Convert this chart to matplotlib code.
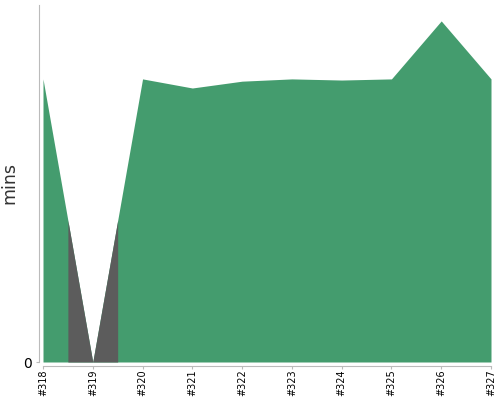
import numpy as np
import matplotlib
matplotlib.use('Agg')
import matplotlib.pyplot as plt

# build trend, duration in minutes
builds = [318, 319, 320, 321, 322, 323, 324, 325, 326, 327]
labels = ['#318', '#319', '#320', '#321', '#322', '#323', '#324', '#325', '#326', '#327']
mins = [4.98, 0.0, 4.98, 4.82, 4.94, 4.98, 4.96, 4.98, 6.0, 4.98]
status = ['ok', 'aborted', 'ok', 'ok', 'ok', 'ok', 'ok', 'ok', 'ok', 'ok']
status_colors = {'ok': '#449c6e', 'aborted': '#5c5c5c'}

fig = plt.figure(figsize=(5, 4), dpi=100)
ax = fig.add_axes([0.086, 0.095, 0.896, 0.8925])

x = np.array(builds, dtype=float)
y = np.array(mins)
# whole area in the success colour, other builds painted over their half-step band
ax.fill_between(x, y, 0, color=status_colors['ok'], lw=0)
for i, b in enumerate(builds):
    if status[i] == 'ok':
        continue
    lo = max(b - 0.5, x[0])
    hi = min(b + 0.5, x[-1])
    xs = np.array([lo, b, hi])
    ys = np.interp(xs, x, y)
    ax.fill_between(xs, ys, 0, color=status_colors[status[i]], lw=0)

ax.set_xlim(318, 327)
ax.set_ylim(0, 6.28)
ax.set_xticks(builds)
ax.set_xticklabels(labels, color='black')
ax.set_yticks([0])
ax.set_yticklabels(['0'], fontsize=8.5, color='#444444')
ax.set_ylabel('mins', fontsize=12.5, color='#333333')
ax.yaxis.set_label_coords(-0.054, 0.5)

for s in ['top', 'right']:
    ax.spines[s].set_visible(False)
for s in ['left', 'bottom']:
    ax.spines[s].set_position(('outward', 3))
    ax.spines[s].set_color('#bbbbbb')
ax.tick_params(axis='both', length=2, color='#bbbbbb')
ax.tick_params(axis='y', pad=3)
ax.tick_params(axis='x', pad=0.5, labelrotation=90, labelsize=7)

fig.savefig('out.png', dpi=100)
